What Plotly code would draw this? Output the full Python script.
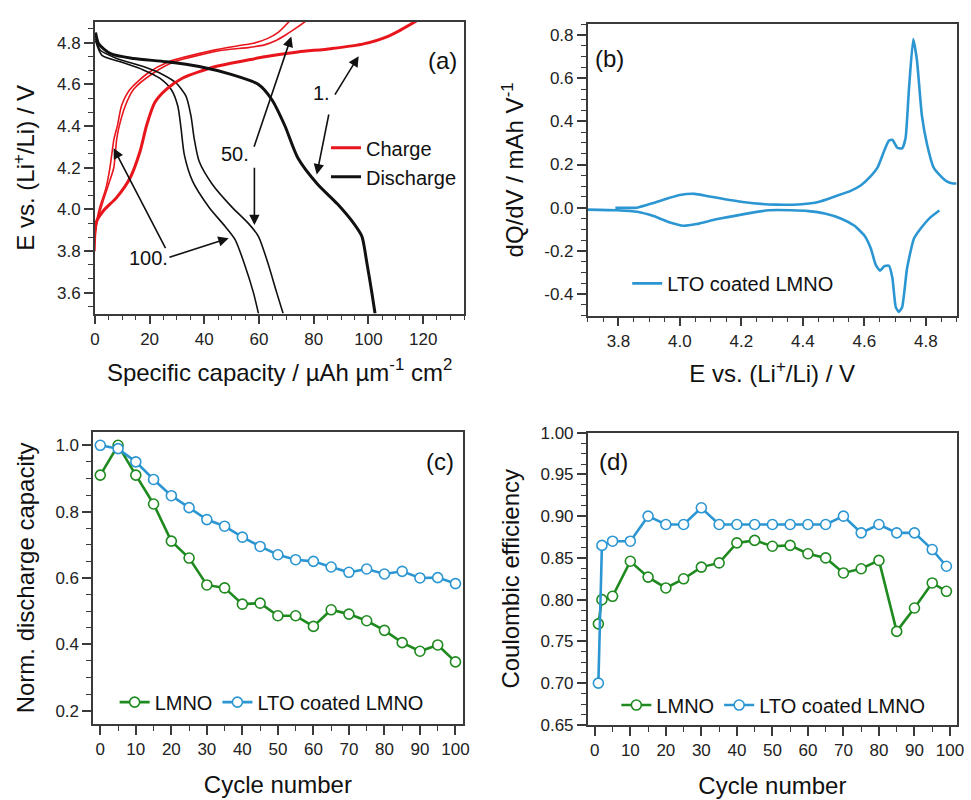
import plotly.graph_objects as go

W, H = 971, 800
FONT = "Liberation Sans, Arial, sans-serif"

# ---------------- (a) galvanostatic charge / discharge profiles ----------------
cap_ch_1 = [0, 0.5, 3.2, 8.0, 12.9, 16.5, 18.9, 21.9, 26.1, 32.1, 44.1, 55, 62.1, 74.2, 86.2, 98.2, 107.8, 117.5]
E_ch_1 = [3.90, 3.94, 3.995, 4.058, 4.152, 4.278, 4.403, 4.513, 4.576, 4.631, 4.686, 4.715, 4.733, 4.756, 4.772, 4.795, 4.835, 4.905]

cap_ch_50 = [0, 1, 3, 5, 6.9, 8.0, 8.9, 11.1, 14.1, 21.3, 29.1, 46.5, 56, 62, 66, 70, 74, 77.2]
E_ch_50 = [3.87, 3.95, 4.04, 4.12, 4.20, 4.34, 4.40, 4.497, 4.576, 4.654, 4.709, 4.764, 4.777, 4.79, 4.81, 4.84, 4.875, 4.905]

cap_ch_100 = [0, 0.5, 2, 4, 5.5, 7, 8.2, 9.8, 12.8, 19.3, 27, 44, 52, 58, 63, 67, 71.2]
E_ch_100 = [3.80, 3.93, 4.02, 4.10, 4.20, 4.34, 4.40, 4.50, 4.576, 4.654, 4.709, 4.766, 4.785, 4.798, 4.82, 4.85, 4.905]

cap_dis_1 = [0.25, 1.4, 5.7, 14.1, 26.1, 38.1, 50.1, 59.8, 64.6, 69.4, 74.2, 81.4, 88.6, 94.6, 97.6, 99.4, 101.2, 102.4]
E_dis_1 = [4.85, 4.795, 4.748, 4.725, 4.709, 4.686, 4.647, 4.60, 4.529, 4.403, 4.247, 4.121, 4.027, 3.933, 3.870, 3.744, 3.603, 3.50]

cap_dis_50 = [0.25, 2.0, 8.0, 17.7, 24.9, 29.7, 33.3, 35.1, 36.3, 38.1, 42.9, 50.1, 56.1, 59.8, 63.2, 66.4, 68.8]
E_dis_50 = [4.82, 4.764, 4.725, 4.686, 4.647, 4.607, 4.544, 4.45, 4.34, 4.231, 4.121, 4.011, 3.933, 3.870, 3.744, 3.603, 3.50]

cap_dis_100 = [0.25, 2.6, 9.3, 17.7, 23.7, 27.9, 30.3, 31.5, 32.7, 35.7, 41.7, 47.7, 51.3, 54.9, 57.9, 59.8]
E_dis_100 = [4.81, 4.74, 4.709, 4.67, 4.63, 4.576, 4.497, 4.388, 4.262, 4.136, 4.011, 3.917, 3.854, 3.729, 3.603, 3.50]

# ---------------- (b) differential capacity of the LTO coated LMNO ----------------
E_dqdv_up = [3.79, 3.86, 3.914, 3.962, 4.0, 4.048, 4.096, 4.204, 4.311, 4.396, 4.45, 4.504, 4.557, 4.589,
             4.616, 4.643, 4.664, 4.68, 4.691, 4.707, 4.723, 4.734, 4.745, 4.759, 4.771, 4.787, 4.804,
             4.825, 4.846, 4.868, 4.889, 4.9]
dqdv_up = [0.0, 0.0, 0.022, 0.044, 0.059, 0.064, 0.052, 0.026, 0.014, 0.016, 0.026, 0.052, 0.079, 0.104,
           0.139, 0.187, 0.262, 0.311, 0.315, 0.278, 0.275, 0.323, 0.549, 0.782, 0.684, 0.428, 0.293,
           0.187, 0.15, 0.122, 0.112, 0.112]
E_dqdv_down = [4.844, 4.814, 4.782, 4.761, 4.739, 4.723, 4.712, 4.702, 4.691, 4.68, 4.664, 4.651, 4.637,
               4.621, 4.6, 4.568, 4.525, 4.471, 4.418, 4.364, 4.289, 4.204, 4.118, 4.054, 4.011, 3.968,
               3.914, 3.861, 3.796, 3.7]
dqdv_down = [-0.013, -0.046, -0.099, -0.144, -0.28, -0.46, -0.483, -0.46, -0.325, -0.269, -0.272, -0.292,
             -0.265, -0.189, -0.129, -0.084, -0.051, -0.027, -0.016, -0.012, -0.012, -0.031, -0.054,
             -0.076, -0.084, -0.069, -0.039, -0.019, -0.012, -0.009]

# ---------------- (c) normalised discharge capacity ----------------
cycles_c = [0, 5, 10, 15, 20, 25, 30, 35, 40, 45, 50, 55, 60, 65, 70, 75, 80, 85, 90, 95, 100]
cap_lmno = [0.91, 1.0, 0.91, 0.823, 0.711, 0.66, 0.579, 0.57, 0.521, 0.524, 0.486, 0.486, 0.454,
            0.504, 0.491, 0.471, 0.442, 0.405, 0.379, 0.398, 0.347]
cap_lto = [1.0, 0.99, 0.95, 0.897, 0.848, 0.812, 0.776, 0.756, 0.723, 0.695, 0.67, 0.655, 0.65,
           0.633, 0.617, 0.627, 0.612, 0.62, 0.6, 0.601, 0.583]

# ---------------- (d) coulombic efficiency ----------------
cycles_d = [1, 2, 5, 10, 15, 20, 25, 30, 35, 40, 45, 50, 55, 60, 65, 70, 75, 80, 85, 90, 95, 99]
ce_lmno = [0.771, 0.80, 0.804, 0.846, 0.827, 0.814, 0.825, 0.839, 0.844, 0.868, 0.871, 0.864, 0.865,
           0.855, 0.85, 0.832, 0.837, 0.847, 0.762, 0.79, 0.82, 0.81]
ce_lto = [0.70, 0.865, 0.87, 0.87, 0.90, 0.89, 0.89, 0.91, 0.89, 0.89, 0.89, 0.89, 0.89, 0.89, 0.89,
          0.90, 0.88, 0.89, 0.88, 0.88, 0.86, 0.84]

dqdv_ticks = [-0.4, -0.2, 0.0, 0.2, 0.4, 0.6, 0.8]
dqdv_ticktext = ["-0.4", "-0.2", "0.0", "0.2", "0.4", "0.6", "0.8"]

RED = "#e8161c"
BLACK = "#111111"
GREEN = "#1f8a1f"
BLUE = "#2b96d2"
AXC = "#3a3a3a"


def px_x(p):
    return p / W


def px_y(p):
    return 1 - p / H


fig = go.Figure()

# (a) curves: thin lines for cycles 50 / 100, thick for the first cycle
spl = dict(shape="spline", smoothing=0.7)
for cap, E in [(cap_ch_100, E_ch_100), (cap_ch_50, E_ch_50)]:
    fig.add_trace(go.Scatter(x=cap, y=E, mode="lines", line=dict(color=RED, width=1.6, **spl),
                             showlegend=False, xaxis="x", yaxis="y"))
for cap, E in [(cap_dis_100, E_dis_100), (cap_dis_50, E_dis_50)]:
    fig.add_trace(go.Scatter(x=cap, y=E, mode="lines", line=dict(color=BLACK, width=1.6, **spl),
                             showlegend=False, xaxis="x", yaxis="y"))
fig.add_trace(go.Scatter(x=cap_ch_1, y=E_ch_1, mode="lines", name="Charge",
                         line=dict(color=RED, width=3, **spl), legend="legend", xaxis="x", yaxis="y"))
fig.add_trace(go.Scatter(x=cap_dis_1, y=E_dis_1, mode="lines", name="Discharge",
                         line=dict(color=BLACK, width=3, **spl), legend="legend", xaxis="x", yaxis="y"))

# (b) dQ/dV loop
fig.add_trace(go.Scatter(x=E_dqdv_up + [None] + E_dqdv_down, y=dqdv_up + [None] + dqdv_down,
                         mode="lines", name="LTO coated LMNO", connectgaps=False,
                         line=dict(color=BLUE, width=2.6, shape="spline", smoothing=0.5),
                         legend="legend2", xaxis="x2", yaxis="y2"))

mk = lambda c: dict(symbol="circle", size=10, color="white", line=dict(color=c, width=1.6))
# (c) capacity retention
fig.add_trace(go.Scatter(x=cycles_c, y=cap_lmno, mode="lines+markers", name="LMNO",
                         line=dict(color=GREEN, width=2.6), marker=mk(GREEN),
                         legend="legend3", xaxis="x3", yaxis="y3"))
fig.add_trace(go.Scatter(x=cycles_c, y=cap_lto, mode="lines+markers", name="LTO coated LMNO",
                         line=dict(color=BLUE, width=2.6), marker=mk(BLUE),
                         legend="legend3", xaxis="x3", yaxis="y3"))
# (d) coulombic efficiency
fig.add_trace(go.Scatter(x=cycles_d, y=ce_lmno, mode="lines+markers", name="LMNO",
                         line=dict(color=GREEN, width=2.6), marker=mk(GREEN),
                         legend="legend4", xaxis="x4", yaxis="y4"))
fig.add_trace(go.Scatter(x=cycles_d, y=ce_lto, mode="lines+markers", name="LTO coated LMNO",
                         line=dict(color=BLUE, width=2.6), marker=mk(BLUE),
                         legend="legend4", xaxis="x4", yaxis="y4"))


def axis(domain, rng, dtick, mdtick, title, anchor, tick0=0, standoff=10, **kw):
    d = dict(domain=domain, range=rng, anchor=anchor, showline=True, linecolor=AXC, linewidth=1.5,
             mirror=True, ticks="outside", ticklen=9, tickwidth=1.5, tickcolor=AXC,
             showgrid=False, zeroline=False, tick0=tick0, dtick=dtick,
             tickfont=dict(size=17, color="#222", family=FONT),
             minor=dict(ticks="outside", ticklen=5, tickwidth=1.3, tickcolor=AXC, dtick=mdtick,
                        tick0=tick0, showgrid=False),
             title=dict(text=title, font=dict(size=24, color="#111", family=FONT), standoff=standoff))
    d.update(kw)
    return d


leg_font = dict(size=20, family=FONT, color="#111")
fig.update_layout(
    width=W, height=H, margin=dict(l=0, r=0, t=0, b=0),
    paper_bgcolor="white", plot_bgcolor="white",
    font=dict(family=FONT, color="#111"),
    xaxis=axis([px_x(91), px_x(465)], [0, 135], 20, 5, "Specific capacity / µAh µm<sup>-1</sup> cm<sup>2</sup>",
               "y", standoff=16),
    yaxis=axis([px_y(312), px_y(13.3)], [3.5, 4.9], 0.2, 0.2 / 3, "E vs. (Li<sup>+</sup>/Li) / V",
               "x", tick0=3.6, standoff=16, tickformat=".1f"),
    xaxis2=axis([px_x(590), px_x(963.5)], [3.7, 4.9], 0.2, 0.05, "E vs. (Li<sup>+</sup>/Li) / V",
                "y2", tick0=3.8, standoff=16, tickformat=".1f"),
    yaxis2=axis([px_y(314), px_y(15.7)], [-0.5, 0.85], 0.2, 0.05, "dQ/dV / mAh V<sup>-1</sup>",
                "x2", tick0=0, standoff=14, tickmode="array", tickvals=dqdv_ticks, ticktext=dqdv_ticktext),
    xaxis3=axis([px_x(89.3), px_x(463.3)], [-2, 102], 10, 5, "Cycle number", "y3", standoff=18),
    yaxis3=axis([px_y(732.3), px_y(433.3)], [0.16, 1.04], 0.2, 0.05, "Norm. discharge capacity", "x3",
                tick0=0.2, standoff=14, tickformat=".1f"),
    xaxis4=axis([px_x(590), px_x(964)], [-2, 102], 10, 5, "Cycle number", "y4", standoff=18),
    yaxis4=axis([px_y(733.3), px_y(434)], [0.65, 1.0], 0.05, 0.0125, "Coulombic efficiency", "x4",
                tick0=0.65, standoff=14, tickformat=".2f"),
    legend=dict(x=px_x(325), y=px_y(157), xanchor="left", yanchor="middle", bgcolor="rgba(0,0,0,0)",
                font=leg_font, tracegroupgap=0),
    legend2=dict(x=px_x(630), y=px_y(281), xanchor="left", yanchor="middle", bgcolor="rgba(0,0,0,0)",
                 font=leg_font),
    legend3=dict(x=px_x(111), y=px_y(710), xanchor="left", yanchor="middle", orientation="h",
                 bgcolor="rgba(0,0,0,0)", font=leg_font),
    legend4=dict(x=px_x(619), y=px_y(713), xanchor="left", yanchor="middle", orientation="h",
                 bgcolor="rgba(0,0,0,0)", font=leg_font),
)

ann = []
# panel letters
for txt, (px, py) in [("(a)", (442.7, 52.7)), ("(b)", (611.7, 50.7)), ("(c)", (440.7, 463.3)),
                      ("(d)", (616, 463.3))]:
    ann.append(dict(text=txt, x=px_x(px), y=px_y(py), xref="paper", yref="paper", showarrow=False,
                    xanchor="center", yanchor="middle", font=dict(size=24, family=FONT, color="#111")))

# cycle labels with their pointer arrows in panel (a)
for txt, (lx, ly) in [("1.", (82.9, 4.559)), ("50.", (51.3, 4.265)), ("100.", (19.5, 3.768))]:
    ann.append(dict(text=txt, x=lx, y=ly, xref="x", yref="y", showarrow=False,
                    font=dict(size=20, family=FONT, color="#111")))
arrows = [((87.4, 4.544), (96.4, 4.736)), ((85.6, 4.463), (81.1, 4.168)),
          ((58.0, 4.294), (71.8, 4.83)), ((58.3, 4.207), (58.3, 3.925)),
          ((26.1, 3.807), (6.85, 4.294)), ((26.7, 3.768), (48.9, 3.862))]
for (tx, ty), (hx, hy) in arrows:
    ann.append(dict(text="", x=hx, y=hy, ax=tx, ay=ty, xref="x", yref="y", axref="x", ayref="y",
                    showarrow=True, arrowhead=2, arrowsize=1.3, arrowwidth=1.6, arrowcolor="#111",
                    standoff=0, startstandoff=0))
fig.update_layout(annotations=ann)

fig.write_html("out.html")
